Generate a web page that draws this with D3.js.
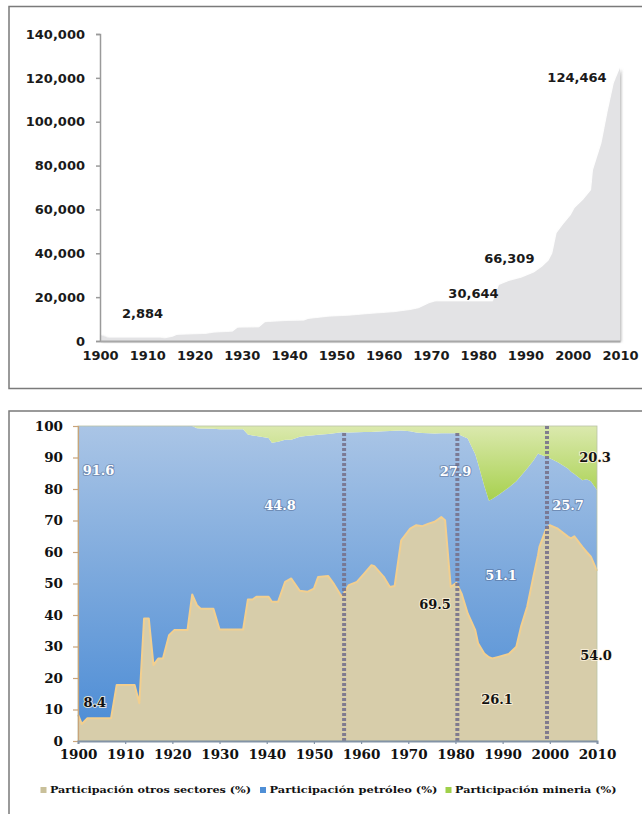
<!DOCTYPE html>
<html>
<head>
<meta charset="utf-8">
<script src="https://cdn.jsdelivr.net/npm/d3@7"></script>
<style>
html,body{margin:0;padding:0;background:#fff;}
svg{display:block;}
</style>
</head>
<body>
<svg id="chart" width="642" height="814"></svg>
<script>
// ---------- DATA ----------
// Top chart: series (value by year)
const gdpYears = [1900,1901.5,1907.5,1912.8,1913.6,1915.4,1916.2,1922.3,1924,1928,1929.1,1933.6,1934.9,1939.7,1943.1,1944,1948.4,1952.7,1957,1962.2,1965.7,1967.4,1969.6,1970.9,1983.1,1984.4,1986.5,1989.1,1991.8,1993.5,1994.9,1995.7,1996.6,1997.9,1999.6,2000.4,2002.2,2003.9,2004.3,2006.1,2007.4,2008.7,2010];
const gdpValues = [2884,1500,1520,1500,1100,1980,2740,3200,3800,4260,6090,6200,8520,9130,9280,10050,11100,11570,12330,13090,14150,14900,17200,17960,18000,25570,27400,28900,31200,33900,36700,40000,49200,53000,57500,60600,64400,68900,78000,90300,104700,117600,124464];
const gdpTicks = [0,20000,40000,60000,80000,100000,120000,140000];
const gdpLabels = [
  {year:1909, value:2884, text:"2,884"},
  {year:1979, value:30644, text:"30,644"},
  {year:1986.6, value:66309, text:"66,309"},
  {year:2000.9, value:124464, text:"124,464"}
];
const yearTicks = [1900,1910,1920,1930,1940,1950,1960,1970,1980,1990,2000,2010];

// Bottom chart: shares (%)
const shareYears = [1900,1900.8,1902,1907,1908.2,1912,1913,1914,1915,1916,1917,1918,1919.3,1920.4,1923.2,1924.2,1925.2,1926,1928.7,1930,1935,1936,1937,1937.8,1940.4,1941.1,1942.4,1943.9,1945.2,1947,1948.7,1950,1950.9,1953,1954.3,1955.9,1957.4,1959.1,1960.7,1962.2,1962.8,1964.8,1966.1,1967.1,1968.5,1970.4,1971.7,1973,1974.3,1975.6,1977,1977.8,1979,1980.2,1981.3,1982.6,1984.2,1984.8,1986.1,1987.1,1987.8,1989.1,1991.3,1992.9,1993.9,1995.2,1996.5,1997.5,1997.8,1999.1,2000,2001.7,2003.9,2004.5,2005.2,2006.9,2007.8,2008.7,2010];
const otrosValues = [8.4,5.4,7.2,7.2,17.8,17.8,12,38.9,38.9,24.1,26.2,26.2,33.6,35.2,35.2,46.5,43.1,42,42,35.4,35.4,44.9,44.9,45.8,45.8,44.2,44.2,50.5,51.6,47.7,47.4,48.4,52.1,52.4,49.7,45.8,49.5,50.5,53.2,55.8,55.5,52.1,48.9,49.2,63.7,67.4,68.5,68.2,69,69.6,71.1,70.1,48.9,50.2,46.8,40.5,35.2,31,27.8,26.6,26.2,26.7,27.6,29.9,36.3,42.6,52.1,59,61.6,66.9,68.5,67.4,64.8,64.3,65,61.6,60,58.5,54.0];
const mineriaValues = [0,0,0,0,0,0,0,0,0,0,0,0,0,0,0,0,0.7,0.8,0.9,1,1,2.7,3,3.2,3.8,5.3,5,4.4,4.4,3.4,3.1,2.9,2.8,2.5,2.3,2,2.1,2,1.9,1.9,1.8,1.7,1.6,1.5,1.4,1.7,2.1,2.2,2.3,2.4,2.3,2.3,2.3,2.3,3.1,4,9,12,19,23.7,23.2,21.9,19.5,17.5,15.8,13.5,11,8.7,9,9.7,10.2,11.5,13.6,14.5,15.2,17.2,16.9,17.5,20.3];
const petroleoValues = shareYears.map((y,i) => +(100 - otrosValues[i] - mineriaValues[i]).toFixed(1));
const shareTicks = [0,10,20,30,40,50,60,70,80,90,100];
const markerYears = [1956.4,1980.4,1999.4];
const markerTops = [97.8,97.8,100];
const shareLabels = [
  {year:1904.2, value:91.6, text:"91.6", white:true},
  {year:1942.5, value:8.4, text:"8.4", white:false, year2:1903.6, value2:12},
  {year:1942.5, value:44.8, text:"44.8", white:true},
  {year:1979.9, value:27.9, text:"27.9", white:true},
  {year:1998.0, value:25.7, text:"25.7", white:true},
  {year:2010, value:20.3, text:"20.3", white:false},
  {year:1988.7, value:51.1, text:"51.1", white:true},
  {year:1975.6, value:69.5, text:"69.5", white:false},
  {year:2010, value:54.0, text:"54.0", white:false},
  {year:1988.7, value:26.1, text:"26.1", white:false}
];
const legendLabels = ["Participación otros sectores (%)","Participación petróleo (%)","Participación mineria (%)"];
const legendColors = ["#c9c09a","#4f8fd6","#9fd04a"];

// ---------- DRAW ----------
const svg = d3.select("#chart");
const defs = svg.append("defs");

// panel frames
svg.append("rect").attr("x",9).attr("y",6.5).attr("width",640).attr("height",382)
  .attr("fill","none").attr("stroke","#7a7a7a").attr("stroke-width",1.5);
svg.append("rect").attr("x",9).attr("y",411).attr("width",640).attr("height",420)
  .attr("fill","none").attr("stroke","#7a7a7a").attr("stroke-width",1.5);

// ===== TOP CHART =====
const xT = d3.scaleLinear().domain([1900,2010]).range([100,620]);
const yT = d3.scaleLinear().domain([0,140000]).range([341,34]);

const sh = defs.append("filter").attr("id","shadow").attr("x","-5%").attr("y","-5%").attr("width","115%").attr("height","115%");
sh.append("feDropShadow").attr("dx",1.5).attr("dy",1).attr("stdDeviation",1.2).attr("flood-color","#888").attr("flood-opacity",0.55);

const gdpData = gdpYears.map((y,i)=>({year:y, value:gdpValues[i]}));
svg.append("path").datum(gdpData)
  .attr("d", d3.area().x(d=>xT(d.year)).y0(yT(0)).y1(d=>yT(d.value)))
  .attr("fill","#e3e3e5").attr("filter","url(#shadow)");

const topFont = "'DejaVu Sans', Verdana, sans-serif";
const gyT = svg.append("g").attr("transform","translate(100,0)")
  .call(d3.axisLeft(yT).tickValues(gdpTicks).tickSize(4).tickPadding(11).tickFormat(d3.format(",")));
gyT.select(".domain").attr("stroke","#9a9a9a").attr("stroke-width",1.5);
gyT.selectAll(".tick line").attr("stroke","#9a9a9a").attr("stroke-width",1.5);
gyT.selectAll("text").attr("font-family",topFont).attr("font-weight","bold").attr("font-size","13px").attr("fill","#1a1a1a");

const gxT = svg.append("g").attr("transform","translate(0,341)")
  .call(d3.axisBottom(xT).tickValues(yearTicks).tickSize(0).tickPadding(10).tickFormat(d3.format("d")));
gxT.select(".domain").attr("stroke","#a8a8a8").attr("stroke-width",2);
gxT.selectAll("text").attr("font-family",topFont).attr("font-weight","bold").attr("font-size","13px").attr("fill","#1a1a1a");

svg.append("g").selectAll("text").data(gdpLabels).join("text")
  .attr("x",d=>xT(d.year)).attr("y",(d,i)=>[314,294,259,78][i])
  .attr("text-anchor","middle").attr("dominant-baseline","middle")
  .attr("font-family",topFont).attr("font-weight","bold").attr("font-size","13px").attr("fill","#1a1a1a")
  .text(d=>d.text);

// ===== BOTTOM CHART =====
const xB = d3.scaleLinear().domain([1900,2010]).range([78,597]);
const yB = d3.scaleLinear().domain([0,100]).range([741,426]);

const rows = shareYears.map((y,i)=>({year:y, otros:otrosValues[i], petroleo:petroleoValues[i], mineria:mineriaValues[i]}));
const stack = d3.stack().keys(["otros","petroleo","mineria"])(rows);

const gBlue = defs.append("linearGradient").attr("id","gBlue").attr("gradientUnits","userSpaceOnUse")
  .attr("x1",0).attr("y1",426).attr("x2",0).attr("y2",741);
gBlue.append("stop").attr("offset","0%").attr("stop-color","#aac5e6");
gBlue.append("stop").attr("offset","45%").attr("stop-color","#7eaadd");
gBlue.append("stop").attr("offset","100%").attr("stop-color","#4a8bd5");
const gGreen = defs.append("linearGradient").attr("id","gGreen").attr("gradientUnits","userSpaceOnUse")
  .attr("x1",0).attr("y1",426).attr("x2",0).attr("y2",505);
gGreen.append("stop").attr("offset","0%").attr("stop-color","#dbe9ae");
gGreen.append("stop").attr("offset","100%").attr("stop-color","#a4cf48");

const areaB = d3.area().x(d=>xB(d.data.year)).y0(d=>yB(d[0])).y1(d=>yB(d[1]));
const fills = {otros:"#d7cdaa", petroleo:"url(#gBlue)", mineria:"url(#gGreen)"};
svg.append("g").selectAll("path").data(stack).join("path")
  .attr("d", areaB).attr("fill", d=>fills[d.key]);

// outline of otros share
svg.append("path").datum(stack[0])
  .attr("d", d3.line().x(d=>xB(d.data.year)).y(d=>yB(d[1])))
  .attr("fill","none").attr("stroke","#f2cf8f").attr("stroke-width",2).attr("stroke-linejoin","round");
// plot frame
svg.append("rect").attr("x",78).attr("y",426).attr("width",519).attr("height",315)
  .attr("fill","none").attr("stroke","#b9c2a6").attr("stroke-width",0.8);

// dotted markers
svg.append("g").selectAll("line").data(markerYears).join("line")
  .attr("x1",d=>xB(d)).attr("x2",d=>xB(d))
  .attr("y1",(d,i)=>yB(markerTops[i])).attr("y2",yB(0))
  .attr("stroke","#77738c").attr("stroke-width",4).attr("stroke-dasharray","3,2").attr("opacity",0.9);

const botFont = "'DejaVu Serif', Cambria, serif";
const gyB = svg.append("g").attr("transform","translate(78,0)")
  .call(d3.axisLeft(yB).tickValues(shareTicks).tickSize(5).tickPadding(10));
gyB.select(".domain").attr("stroke","#c9a47a").attr("stroke-width",1.2);
gyB.selectAll(".tick line").attr("stroke","#c9a47a").attr("stroke-width",1.2);
gyB.selectAll("text").attr("font-family",botFont).attr("font-weight","bold").attr("font-size","13.5px").attr("fill","#111");

const gxB = svg.append("g").attr("transform","translate(0,741)")
  .call(d3.axisBottom(xB).tickValues(yearTicks).tickSize(3).tickPadding(5).tickFormat(d3.format("d")));
gxB.select(".domain").attr("stroke","#8393a6").attr("stroke-width",2);
gxB.selectAll(".tick line").attr("stroke","#8393a6").attr("stroke-width",1.2);
gxB.selectAll("text").attr("font-family",botFont).attr("font-weight","bold").attr("font-size","13.5px").attr("fill","#111");

// value labels
const labelPos = [[98.5,471.7],[94.7,703.3],[280,506.7],[455.5,472.7],[568,506.7],[595,458.3],[501,576.7],[435,605],[596,656],[497,700]];
svg.append("g").selectAll("text").data(shareLabels).join("text")
  .attr("x",(d,i)=>labelPos[i][0]).attr("y",(d,i)=>labelPos[i][1])
  .attr("text-anchor","middle").attr("dominant-baseline","middle")
  .attr("font-family",botFont).attr("font-weight","bold").attr("font-size","13px")
  .attr("fill",d=>d.white?"#ffffff":"#111111")
  .attr("stroke",d=>d.white?"rgba(70,90,130,0.45)":"rgba(255,245,225,0.8)")
  .attr("stroke-width",2).attr("paint-order","stroke")
  .text(d=>d.text);

// legend
const legX = [40.5,260,445.5];
const lg = svg.append("g");
legendLabels.forEach((t,i)=>{
  lg.append("rect").attr("x",legX[i]).attr("y",787).attr("width",6).attr("height",6).attr("fill",legendColors[i]);
  lg.append("text").attr("x",legX[i]+9.5).attr("y",790.5).attr("dominant-baseline","middle")
    .attr("font-family",botFont).attr("font-weight","bold").attr("font-size","9.5px").attr("fill","#111")
    .attr("textLength",[201,168,161.5][i]).attr("lengthAdjust","spacingAndGlyphs")
    .text(t);
});
</script>
</body>
</html>
